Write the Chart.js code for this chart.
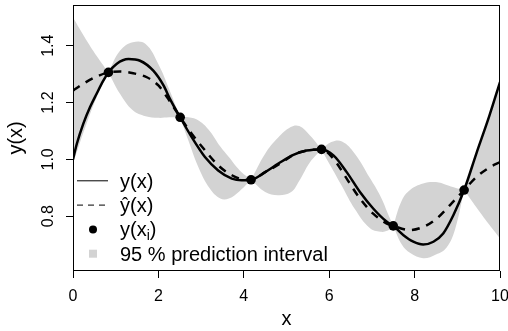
<!DOCTYPE html>
<html>
<head>
<meta charset="utf-8">
<script src="https://cdn.jsdelivr.net/npm/chart.js"></script>
<style>
  html, body { margin: 0; padding: 0; background: #fff; }
</style>
</head>
<body>
<canvas id="myChart" width="508" height="331"></canvas>
<script>
(function () {
    "use strict";

    // observed design points y(x_i)
    var obsX = [0.83, 2.51, 4.17, 5.82, 7.50, 9.16];
    var obsY = [1.306, 1.148, 0.928, 1.035, 0.766, 0.892];

    // true function y(x)
    var trueX = [0, 0.09, 0.24, 0.40, 0.55, 0.71, 0.83, 1.02, 1.30, 1.57, 1.88, 2.12, 2.27, 2.51,
        2.78, 3.09, 3.40, 3.72, 3.95, 4.17, 4.50, 4.81, 5.16, 5.47, 5.82, 6.10, 6.41, 6.72, 7.03,
        7.35, 7.50, 7.74, 7.97, 8.20, 8.44, 8.67, 8.91, 9.16, 9.45, 9.75, 10];
    var trueY = [1.000, 1.055, 1.125, 1.184, 1.230, 1.277, 1.306, 1.336, 1.353, 1.347, 1.312, 1.260, 1.213, 1.148,
        1.078, 1.008, 0.961, 0.932, 0.926, 0.928, 0.955, 0.985, 1.016, 1.031, 1.035, 1.014, 0.955, 0.885, 0.827,
        0.780, 0.766, 0.733, 0.710, 0.700, 0.710, 0.739, 0.804, 0.892, 1.022, 1.153, 1.272];

    // prediction yhat(x)
    var predX = [0, 0.24, 0.52, 0.83, 1.10, 1.41, 1.73, 2.00, 2.23, 2.51, 2.78, 3.09, 3.40, 3.72, 3.99, 4.17,
        4.50, 4.85, 5.16, 5.47, 5.82, 6.10, 6.41, 6.72, 7.03, 7.35, 7.50, 7.89, 8.20, 8.52, 8.83, 9.16,
        9.45, 9.77, 10];
    var predY = [1.242, 1.266, 1.289, 1.306, 1.309, 1.303, 1.289, 1.260, 1.213, 1.148, 1.090, 1.032, 0.979, 0.944, 0.929, 0.928,
        0.955, 0.985, 1.016, 1.031, 1.035, 1.002, 0.932, 0.862, 0.809, 0.774, 0.766, 0.751, 0.762, 0.792, 0.839, 0.892,
        0.938, 0.973, 0.990];

    // 95 % prediction interval
    var bandX = [0, 0.3, 0.6, 0.83, 1.1, 1.4, 1.7, 2.0, 2.25, 2.51, 2.7, 2.95, 3.2, 3.45, 3.65, 3.9, 4.17,
        4.5, 4.8, 5.1, 5.3, 5.55, 5.82, 6.05, 6.3, 6.6, 6.95, 7.2, 7.4, 7.5, 7.7, 7.9, 8.2, 8.5, 8.75, 8.95, 9.16,
        9.5, 9.75, 10];
    var bandLo = [0.985, 1.118, 1.235, 1.306, 1.231, 1.173, 1.152, 1.146, 1.148, 1.148, 1.067, 0.968, 0.898, 0.862, 0.862, 0.888, 0.928,
        0.885, 0.874, 0.884, 0.925, 0.990, 1.035, 0.972, 0.905, 0.825, 0.758, 0.745, 0.751, 0.766, 0.700, 0.670, 0.652, 0.665, 0.690, 0.755, 0.892,
        0.820, 0.770, 0.722];
    var bandHi = [1.499, 1.423, 1.354, 1.306, 1.382, 1.412, 1.406, 1.335, 1.248, 1.148, 1.148, 1.136, 1.100, 1.045, 1.008, 0.962, 0.928,
        1.020, 1.076, 1.114, 1.117, 1.084, 1.035, 1.061, 1.063, 1.020, 0.935, 0.870, 0.800, 0.766, 0.855, 0.893, 0.915, 0.920, 0.910, 0.900, 0.892,
        1.050, 1.150, 1.268];

    var xTicks = [0, 2, 4, 6, 8, 10];
    var yTicks = [0.8, 1.0, 1.2, 1.4];
    var legendLabels = ['y(x)', '\u0177(x)', 'y(x', '95 % prediction interval'];

    var FONT = '"Liberation Sans", Arial, Helvetica, sans-serif';
    var BAND = '#d3d3d3';

    function pts(xs, ys) {
        return xs.map(function (x, i) { return { x: x, y: ys[i] }; });
    }

    var datasets = [{
        label: 'y(x_i)',
        data: pts(obsX, obsY),
        showLine: false,
        pointRadius: 4.8,
        pointBackgroundColor: '#000',
        pointBorderColor: '#000',
        pointBorderWidth: 0,
        order: 0
    }, {
        label: 'y(x)',
        data: pts(trueX, trueY),
        borderColor: '#000',
        borderWidth: 2.5,
        pointRadius: 0,
        cubicInterpolationMode: 'monotone',
        order: 1
    }, {
        label: 'yhat(x)',
        data: pts(predX, predY),
        borderColor: '#000',
        borderWidth: 2.5,
        borderDash: [8, 7],
        pointRadius: 0,
        cubicInterpolationMode: 'monotone',
        order: 2
    }];

    // band split at the design points so it pinches to a point there
    var knots = [0].concat(obsX, [10]);
    for (var k = 0; k < knots.length - 1; k++) {
        var a = knots[k] - 1e-9, b = knots[k + 1] + 1e-9;
        var idx = [];
        bandX.forEach(function (x, i) { if (x >= a && x <= b) idx.push(i); });
        var segX = idx.map(function (i) { return bandX[i]; });
        datasets.push({
            label: 'band hi',
            data: pts(segX, idx.map(function (i) { return bandHi[i]; })),
            borderColor: 'rgba(0,0,0,0)',
            borderWidth: 0,
            backgroundColor: BAND,
            pointRadius: 0,
            tension: 0.4,
            fill: '+1',
            order: 3
        });
        datasets.push({
            label: 'band lo',
            data: pts(segX, idx.map(function (i) { return bandLo[i]; })),
            borderColor: 'rgba(0,0,0,0)',
            borderWidth: 0,
            pointRadius: 0,
            tension: 0.4,
            fill: false,
            order: 3
        });
    }

    // box around the plot region and the R-style legend
    var rPlot = {
        id: 'rPlot',
        afterDatasetsDraw: function (chart) {
            var c = chart.ctx, ca = chart.chartArea;
            c.save();
            c.strokeStyle = '#000';
            c.lineWidth = 1;
            c.strokeRect(Math.round(ca.left) + 0.5, Math.round(ca.top) + 0.5,
                Math.round(ca.right - ca.left) - 1, Math.round(ca.bottom - ca.top) - 1);
            c.restore();
        },
        afterDraw: function (chart) {
            var c = chart.ctx, ca = chart.chartArea;
            var lx = ca.left, ly = ca.top + 176, gap = 24.3, tx = lx + 47;
            c.save();
            c.fillStyle = '#000';
            c.strokeStyle = '#000';
            c.font = '20px ' + FONT;
            c.textAlign = 'left';
            c.textBaseline = 'alphabetic';

            // y(x)
            c.lineWidth = 1;
            c.beginPath(); c.moveTo(lx + 4, ly); c.lineTo(lx + 35, ly); c.stroke();
            c.fillText(legendLabels[0], tx, ly + 7);

            // yhat(x)
            var y1 = ly + gap;
            c.setLineDash([6, 5]);
            c.beginPath(); c.moveTo(lx + 4, y1); c.lineTo(lx + 35, y1); c.stroke();
            c.setLineDash([]);
            c.fillText(legendLabels[1], tx, y1 + 7);

            // y(x_i)
            var y2 = ly + 2 * gap;
            c.beginPath(); c.arc(lx + 20, y2, 4, 0, Math.PI * 2); c.fill();
            c.fillText(legendLabels[2], tx, y2 + 7);
            var w = c.measureText(legendLabels[2]).width;
            c.font = '14px ' + FONT;
            c.fillText('i', tx + w, y2 + 11);
            var wi = c.measureText('i').width;
            c.font = '20px ' + FONT;
            c.fillText(')', tx + w + wi, y2 + 7);

            // band
            var y3 = ly + 3 * gap;
            c.fillStyle = BAND;
            c.fillRect(lx + 16, y3 - 4, 8, 8);
            c.fillStyle = '#000';
            c.fillText(legendLabels[3], tx, y3 + 7);
            c.restore();
        }
    };

    var tickGrid = {
        drawOnChartArea: false,
        drawTicks: true,
        tickLength: 7,
        color: '#000',
        lineWidth: 1
    };

    var ctx = document.getElementById('myChart').getContext('2d');
    var chart = new Chart(ctx, {
        type: 'line',
        data: { datasets: datasets },
        plugins: [rPlot],
        options: {
            responsive: false,
            animation: false,
            events: [],
            layout: { padding: { left: 0, top: 4, right: 8, bottom: 0 } },
            scales: {
                x: {
                    type: 'linear',
                    min: 0,
                    max: 10,
                    afterBuildTicks: function (s) {
                        s.ticks = xTicks.map(function (v) { return { value: v }; });
                    },
                    afterFit: function (s) {
                        s.height = 60;
                        s.paddingLeft = 0;
                        s.paddingRight = 0;
                    },
                    grid: tickGrid,
                    border: { display: false },
                    ticks: {
                        color: '#000',
                        font: { family: FONT, size: 16 },
                        padding: 9,
                        maxRotation: 0,
                        autoSkip: false
                    },
                    title: {
                        display: true,
                        text: 'x',
                        color: '#000',
                        font: { family: FONT, size: 20 },
                        padding: { top: 0, bottom: 0 }
                    }
                },
                y: {
                    type: 'linear',
                    min: 0.607,
                    max: 1.544,
                    afterBuildTicks: function (s) {
                        s.ticks = yTicks.map(function (v) { return { value: v }; });
                    },
                    afterFit: function (s) {
                        s.width = 73;
                        s.paddingTop = 0;
                        s.paddingBottom = 0;
                    },
                    grid: tickGrid,
                    border: { display: false },
                    ticks: {
                        color: '#000',
                        font: { family: FONT, size: 16 },
                        padding: 6,
                        minRotation: 90,
                        maxRotation: 90,
                        crossAlign: 'center',
                        autoSkip: false,
                        callback: function (v) { return v.toFixed(1); }
                    },
                    title: {
                        display: true,
                        text: 'y(x)',
                        color: '#000',
                        font: { family: FONT, size: 20 },
                        padding: { top: 4, bottom: 0 }
                    }
                }
            },
            plugins: {
                legend: { display: false },
                tooltip: { enabled: false }
            }
        }
    });
})();
</script>
</body>
</html>
